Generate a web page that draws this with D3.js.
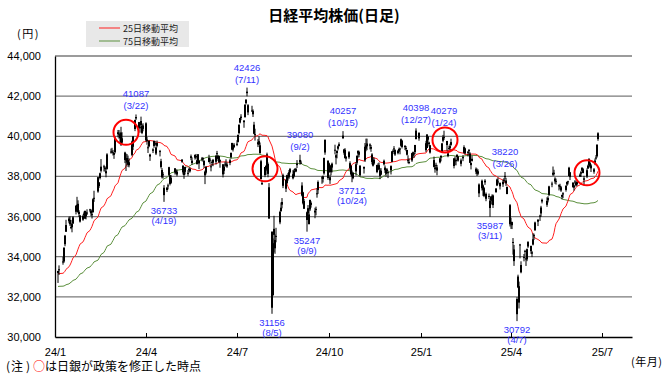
<!DOCTYPE html>
<html><head><meta charset="utf-8">
<script src="https://cdn.jsdelivr.net/npm/d3@7"></script>
<style>body{margin:0;background:#fff}svg{display:block}</style>
</head><body><svg id="c" width="670" height="377"></svg>
<script>
// ---- data (Nikkei 225 daily) ----
const dates = [
"24-01-04","24-01-05","24-01-09","24-01-10","24-01-11","24-01-12","24-01-15","24-01-16","24-01-17","24-01-18","24-01-19","24-01-22","24-01-23","24-01-24","24-01-25","24-01-26","24-01-29","24-01-30","24-01-31",
"24-02-01","24-02-02","24-02-05","24-02-06","24-02-07","24-02-08","24-02-09","24-02-13","24-02-14","24-02-15","24-02-16","24-02-19","24-02-20","24-02-21","24-02-22","24-02-26","24-02-27","24-02-28","24-02-29",
"24-03-01","24-03-04","24-03-05","24-03-06","24-03-07","24-03-08","24-03-11","24-03-12","24-03-13","24-03-14","24-03-15","24-03-18","24-03-19","24-03-21","24-03-22","24-03-25","24-03-26","24-03-27","24-03-28","24-03-29",
"24-04-01","24-04-02","24-04-03","24-04-04","24-04-05","24-04-08","24-04-09","24-04-10","24-04-11","24-04-12","24-04-15","24-04-16","24-04-17","24-04-18","24-04-19","24-04-22","24-04-23","24-04-24","24-04-25","24-04-26","24-04-30",
"24-05-01","24-05-02","24-05-07","24-05-08","24-05-09","24-05-10","24-05-13","24-05-14","24-05-15","24-05-16","24-05-17","24-05-20","24-05-21","24-05-22","24-05-23","24-05-24","24-05-27","24-05-28","24-05-29","24-05-30","24-05-31",
"24-06-03","24-06-04","24-06-05","24-06-06","24-06-07","24-06-10","24-06-11","24-06-12","24-06-13","24-06-14","24-06-17","24-06-18","24-06-19","24-06-20","24-06-21","24-06-24","24-06-25","24-06-26","24-06-27","24-06-28",
"24-07-01","24-07-02","24-07-03","24-07-04","24-07-05","24-07-08","24-07-09","24-07-10","24-07-11","24-07-12","24-07-16","24-07-17","24-07-18","24-07-19","24-07-22","24-07-23","24-07-24","24-07-25","24-07-26","24-07-29","24-07-30","24-07-31",
"24-08-01","24-08-02","24-08-05","24-08-06","24-08-07","24-08-08","24-08-09","24-08-13","24-08-14","24-08-15","24-08-16","24-08-19","24-08-20","24-08-21","24-08-22","24-08-23","24-08-26","24-08-27","24-08-28","24-08-29","24-08-30",
"24-09-02","24-09-03","24-09-04","24-09-05","24-09-06","24-09-09","24-09-10","24-09-11","24-09-12","24-09-13","24-09-17","24-09-18","24-09-19","24-09-20","24-09-24","24-09-25","24-09-26","24-09-27","24-09-30",
"24-10-01","24-10-02","24-10-03","24-10-04","24-10-07","24-10-08","24-10-09","24-10-10","24-10-11","24-10-15","24-10-16","24-10-17","24-10-18","24-10-21","24-10-22","24-10-23","24-10-24","24-10-25","24-10-28","24-10-29","24-10-30","24-10-31",
"24-11-01","24-11-05","24-11-06","24-11-07","24-11-08","24-11-11","24-11-12","24-11-13","24-11-14","24-11-15","24-11-18","24-11-19","24-11-20","24-11-21","24-11-22","24-11-25","24-11-26","24-11-27","24-11-28","24-11-29",
"24-12-02","24-12-03","24-12-04","24-12-05","24-12-06","24-12-09","24-12-10","24-12-11","24-12-12","24-12-13","24-12-16","24-12-17","24-12-18","24-12-19","24-12-20","24-12-23","24-12-24","24-12-25","24-12-26","24-12-27","24-12-30",
"25-01-06","25-01-07","25-01-08","25-01-09","25-01-10","25-01-14","25-01-15","25-01-16","25-01-17","25-01-20","25-01-21","25-01-22","25-01-23","25-01-24","25-01-27","25-01-28","25-01-29","25-01-30","25-01-31",
"25-02-03","25-02-04","25-02-05","25-02-06","25-02-07","25-02-10","25-02-12","25-02-13","25-02-14","25-02-17","25-02-18","25-02-19","25-02-20","25-02-21","25-02-25","25-02-26","25-02-27","25-02-28",
"25-03-03","25-03-04","25-03-05","25-03-06","25-03-07","25-03-10","25-03-11","25-03-12","25-03-13","25-03-14","25-03-17","25-03-18","25-03-19","25-03-21","25-03-24","25-03-25","25-03-26","25-03-27","25-03-28","25-03-31",
"25-04-01","25-04-02","25-04-03","25-04-04","25-04-07","25-04-08","25-04-09","25-04-10","25-04-11","25-04-14","25-04-15","25-04-16","25-04-17","25-04-18","25-04-21","25-04-22","25-04-23","25-04-24","25-04-25","25-04-28","25-04-30",
"25-05-01","25-05-02","25-05-07","25-05-08","25-05-09","25-05-12","25-05-13","25-05-14","25-05-15","25-05-16","25-05-19","25-05-20","25-05-21","25-05-22","25-05-23","25-05-26","25-05-27","25-05-28","25-05-29","25-05-30",
"25-06-02","25-06-03","25-06-04","25-06-05","25-06-06","25-06-09","25-06-10","25-06-11","25-06-12","25-06-13","25-06-16","25-06-17","25-06-18","25-06-19","25-06-20","25-06-23","25-06-24","25-06-25","25-06-26","25-06-27"
];
const open = [
33193,33319,33717,33765,34623,35244,35767,35829,35467,35648,35655,36238,36589,36636,36124,36050,35846,36153,35898,
36202,36200,36357,36290,36098,36217,36935,37248,37519,37919,38282,38502,38442,38155,38376,39240,39248,39206,39075,
39206,40201,40130,39911,40184,39900,39189,38899,38917,38587,38556,39074,39478,40364,40960,40706,40457,40559,40513,40538,
40646,39755,39414,39500,39088,39279,39521,39661,39140,39666,39261,38759,38321,38110,37436,37324,37529,38077,38056,37681,38203,
38167,38093,38736,38541,38262,38470,38156,38369,38258,39006,38668,38931,39014,38804,38775,38781,38838,38912,38785,38239,38185,
38712,38789,38505,38724,38823,38732,39157,39016,39014,38741,38605,38282,38594,38601,38496,38674,38954,39336,39559,39445,
39575,39721,40163,40682,40979,40700,40955,41652,42147,41550,41286,41266,40578,40107,39705,39758,39552,38758,37599,38064,38342,38371,
38620,37459,35250,32077,35389,34420,35037,35711,36270,36593,37533,37829,37675,37998,37957,38209,37905,38012,38333,38248,38563,
38823,38648,37548,37206,36774,35831,36419,36106,36354,36681,36293,36335,37159,37320,37951,38004,38152,39192,38785,
38215,37962,38208,38441,39291,39057,39163,39502,39514,40032,39342,39327,38887,39206,38661,38525,38002,38168,38250,38680,39140,39224,
38525,38388,38801,39555,39641,39590,39466,39095,38796,38830,38568,38510,38561,38307,38092,38604,38311,38342,38268,38207,
38301,38727,39262,39396,39314,39278,39250,39390,39530,39780,39526,39419,39317,38772,38718,38796,39200,39149,39216,39856,40180,
39656,39415,39831,39690,39552,38816,38359,38575,38292,38703,38946,39208,39777,39960,39767,39146,39405,39410,39710,
38901,38788,38759,38968,38995,38630,38905,39175,39400,39231,39311,39139,38562,38878,38380,38325,38133,37597,
37414,37552,37033,37791,37131,37014,36426,36992,36998,36570,37224,37551,37739,37507,37732,37840,37964,37655,37482,36569,
35735,35570,34734,34363,31893,32471,32530,34578,33225,33965,34292,33861,33870,34509,34539,34152,34605,35076,35314,35745,36007,
36155,36751,36586,36810,37085,37597,38083,38184,37892,37779,37564,37528,37461,37079,37100,37326,37597,37758,38020,38206,
37695,37550,37696,37676,37608,37989,38137,38287,38362,37905,37992,38390,38557,38665,38547,38236,38622,38908,39003,39860
];
const high = [
33299,33568,33991,34477,35085,35839,35992,36008,35835,35648,36020,36546,36984,36810,36317,36080,36097,36249,36287,
36249,36363,36387,36366,36318,36911,37287,37963,37717,38188,38865,38580,38505,38389,39156,39388,39426,39321,39166,
39990,40314,40314,40195,40472,40201,39230,39140,39116,39040,38909,39785,40004,40823,41087,40716,40552,40979,40602,40649,
40697,39964,39548,39800,39130,39404,39774,39773,39491,39787,39321,38878,38415,38215,37566,37478,37640,38480,38078,38068,38408,
38361,38341,38863,38541,38365,38484,38319,38443,38444,39091,38952,39096,39120,38851,39112,38791,38970,38953,38785,38293,38487,
39078,38933,38585,38804,38871,39038,39272,39070,39014,38848,38605,38516,38720,38854,38697,38881,39188,39676,39573,39667,
39804,40074,40580,40913,41100,40806,41580,41831,42426,41603,41520,41340,40720,40377,39862,40001,39690,38829,37813,38469,38553,39185,
38693,37669,35250,34911,36039,35112,35440,36290,36705,36922,38137,37865,38084,38174,38319,38423,38314,38357,38419,38427,38815,
39080,38791,37708,37233,36876,36253,36574,36357,36833,36758,36441,36497,37399,37799,38011,38044,38926,39829,38794,
38688,38087,38584,38691,39581,39106,39295,39540,39699,40257,39372,39410,39012,39262,38755,38554,38294,38221,38703,39042,39287,39282,
38568,38492,39664,39884,39884,39646,39567,39160,38935,38938,38580,38655,38695,38404,38413,38840,38546,38390,38415,38290,
38550,39263,39349,39511,39350,39324,39436,39433,39888,39822,39553,39515,39327,39051,38899,39178,39239,39205,39568,40398,40180,
39775,40113,40003,39731,39570,38986,38518,38683,38574,38903,39047,39657,40068,40279,39767,39292,39532,39624,39881,
38901,38997,38902,39115,39007,38893,39063,39552,39433,39259,39365,39203,38690,39038,38449,38400,38357,37652,
37843,37600,37474,37863,37199,37145,36885,37025,37104,37100,37418,37887,37939,37700,37837,37924,38220,37931,37482,36624,
35942,35746,34930,34588,31987,33106,32760,34639,33772,34135,34344,34002,34413,34777,34548,34288,35166,35150,35747,35871,36092,
36535,36893,36960,37014,37535,37739,38494,38331,37960,37893,37605,37635,37528,37087,37214,37556,37746,37786,38479,38225,
37695,37573,37819,37712,37759,38150,38277,38467,38422,38027,38404,38590,38885,38743,38610,38418,38895,39063,39587,40200
];
const low = [
32693,33091,33601,33699,34521,35243,35666,35533,35371,35216,35635,36107,36492,36173,35980,35703,35790,36015,35885,
35858,36079,36213,36029,35903,36200,36732,37188,37424,37849,38195,38246,38245,37956,38341,39135,39160,39043,38876,
39142,39948,39881,39608,39518,39597,38664,38271,38578,38479,38452,39007,39317,40256,40815,40389,40180,40474,40106,40249,
39741,39577,39169,39454,38774,39164,39426,39518,39065,39450,38998,38398,37900,37900,36733,37222,37352,38035,37552,37630,38095,
38107,38004,38682,38093,37881,38095,38030,38198,38196,38811,38577,38837,38869,38591,38657,38367,38755,38741,38426,37617,38096,
38712,38608,38254,38530,38510,38595,38895,38774,38664,38432,37950,38114,38491,38495,38428,38559,38893,39306,39241,39446,
39510,39691,40094,40639,40805,40424,40929,41585,41990,41054,41228,40961,40104,39784,39463,39574,39145,37850,37599,37961,38079,38264,
37958,35880,31156,32077,34215,34146,34720,35619,36246,36411,37417,37222,37631,37791,37880,38147,37853,37954,38210,38213,38419,
38583,38620,37003,36599,36378,35247,35999,35621,36276,36443,35917,36062,36941,37128,37633,37694,38086,39079,37827,
38165,37627,38049,38201,39101,38599,38902,39298,39495,39862,39081,38900,38742,38875,38302,38039,37712,37861,38040,38582,38935,38956,
37985,38145,38718,39256,39308,39346,39227,38601,38494,38581,38161,38315,38309,37864,38071,38549,38172,37991,38171,37917,
38097,38707,39112,39211,39024,39098,39210,39101,39484,39394,39318,39256,39045,38655,38611,38723,38982,38921,39106,39856,39779,
39216,39415,39721,39491,39140,38451,38186,38342,38055,38649,38752,39187,39700,39818,39286,38957,39325,39311,39529,
38401,38562,38553,38888,38737,38504,38760,39153,39093,38991,39104,38673,38349,38739,38113,38020,38059,36969,
37296,37031,36966,37579,36765,36875,35987,36592,36617,36425,37179,37518,37605,37349,37478,37664,37860,37527,37120,35505,
35386,35377,34102,33543,30792,32436,31420,33919,33174,33770,34025,33539,33778,34438,34144,33980,34564,34838,35300,35527,35781,
35988,36656,36485,36705,37029,37462,38029,38045,37633,37595,37302,37378,37229,36855,36917,37242,37522,37600,38014,37818,
37436,37291,37597,37497,37538,37971,37973,38276,38153,37540,37918,38387,38517,38429,38219,38134,38561,38836,38939,39775
];
const close = [
33288,33377,33763,34441,35049,35577,35901,35619,35477,35466,35963,36546,36517,36226,36236,35751,36026,36066,36287,
36011,36158,36354,36160,36119,36863,36897,37963,37703,38157,38487,38470,38363,38262,39098,39233,39239,39208,39166,
39910,40109,40097,40090,39598,39688,38820,38797,38695,38807,38707,39740,40003,40815,40888,40414,40398,40762,40168,40369,
39803,39838,39451,39773,38992,39347,39773,39581,39442,39523,39232,38471,37961,38079,37068,37438,37552,38460,37628,37934,38405,
38274,38236,38835,38202,38073,38229,38179,38356,38385,38920,38787,39069,38946,38617,39103,38646,38900,38855,38556,38054,38487,
38923,38837,38490,38703,38683,39038,39134,38876,38720,38814,38102,38482,38570,38633,38596,38804,39173,39667,39341,39583,
39631,40074,40580,40913,40912,40780,41580,41831,42224,41190,41275,41097,40126,40063,39599,39594,39154,37869,37667,38468,38525,39101,
38126,35909,31458,34675,35089,34831,35025,36232,36442,36726,38062,37388,38062,37951,38211,38364,38110,38288,38371,38362,38647,
38700,38686,37047,36657,36391,36215,36159,35619,36833,36581,36203,36380,37155,37723,37940,37870,38925,39829,37919,
38651,37808,38552,38635,39332,38937,39277,39380,39605,39910,39180,38911,38981,38954,38411,38104,38143,37913,38605,39027,39277,39081,
38053,38474,39480,39381,39500,39533,39376,38721,38536,38642,38220,38414,38352,38026,38283,38780,38442,38134,38349,38208,
38513,39248,39276,39395,39091,39160,39367,39372,39849,39470,39457,39364,39081,38813,38701,39161,39036,39130,39568,40281,39894,
39307,40083,39981,39605,39190,38474,38445,38572,38451,38903,39027,39646,39958,39931,39566,39016,39415,39513,39572,
38520,38798,38831,39066,38787,38801,38963,39461,39149,39174,39270,38678,38678,38776,38237,38142,38256,37155,
37785,37331,37418,37704,36887,37028,36793,36819,36790,37053,37396,37845,37751,37677,37608,37780,38027,37799,37120,35617,
35624,35725,34735,33780,31136,33012,31714,34609,33586,33982,34267,33920,34377,34730,34280,34220,34868,35039,35705,35840,36045,
36452,36831,36780,36928,37503,37644,38183,38128,37755,37753,37499,37529,37299,36985,37160,37532,37724,37722,38433,37965,
37470,37446,37747,37554,37742,38089,38211,38421,38173,37834,38311,38537,38885,38489,38403,38354,38791,38942,39585,40150
];
// closes before the window (Sep-Dec 2023), used for the moving averages
const prevClose = [
32467,32776,32707,33168,33533,33242,33023,32571,32402,32678,32315,32371,31872,31857,
31759,31237,30526,31075,30994,31746,31936,32494,32315,31659,32040,32042,31430,31259,31000,31062,31270,30602,30991,30697,30859,
31601,31950,32708,32271,32166,32646,32568,32585,32696,33519,33424,33585,33388,33354,33452,33625,33447,33408,33321,33486,
33431,33231,32775,33445,32858,32307,32791,32843,32926,32686,32970,32758,33219,33675,33141,33169,33254,33305,33681,33539,33464
];
const yTicks = [30000,32000,34000,36000,38000,40000,42000,44000];
const xTickDates = ["24-01-01","24-04-01","24-07-01","24-10-01","25-01-01","25-04-01","25-07-01"];
const xTickLabels = ["24/1","24/4","24/7","24/10","25/1","25/4","25/7"];
const annDates  = ["24-03-22","24-07-11","24-09-02","24-10-15","24-12-27","25-01-24","25-03-26","24-04-19","24-08-05","24-09-09","24-10-24","25-03-11","25-04-07"];
const annValues = [41087,42426,39080,40257,40398,40279,38220,36733,31156,35247,37712,35987,30792];
const annDateText = ["(3/22)","(7/11)","(9/2)","(10/15)","(12/27)","(1/24)","(3/26)","(4/19)","(8/5)","(9/9)","(10/24)","(3/11)","(4/7)"];
const annType = ["high","high","high","high","high","high","high","low","low","low","low","low","low"];
const circleDates = ["24-03-12","24-07-29","25-01-25","25-06-16"];
const circleValues = [40200,38380,39820,38180];

// ---- drawing ----
const parse = d3.timeParse("%y-%m-%d");
const svg = d3.select("#c");
const x = d3.scaleTime().domain([parse("24-01-01"), parse("25-07-31")]).range([55, 632]);
const y = d3.scaleLinear().domain([30000, 44000]).range([337, 56]);
const sans = "'Liberation Sans', Arial, sans-serif";
const cjk = "'Noto Sans CJK JP', sans-serif";

const data = dates.map((d, i) => ({date: parse(d), o: open[i], h: high[i], l: low[i], c: close[i]}));
const allClose = prevClose.concat(close);
function ma(n) {
  return data.map((d, i) => {
    const k = i + prevClose.length;
    return {date: d.date, v: d3.mean(allClose.slice(k - n + 1, k + 1))};
  });
}
const ma25 = ma(25), ma75 = ma(75);

// gridlines
svg.append("g").selectAll("line").data(yTicks.filter(v => v > 30000)).join("line")
  .attr("x1", 55).attr("x2", 632).attr("y1", d => y(d)).attr("y2", d => y(d))
  .attr("stroke", "#7a7a7a").attr("stroke-width", 1.3);

// axes
const yAxis = svg.append("g").attr("transform", "translate(55,0)")
  .call(d3.axisLeft(y).tickValues(yTicks).tickSize(0).tickPadding(14).tickFormat(d3.format(",")));
yAxis.select(".domain").attr("stroke", "#000").attr("stroke-width", 1.3);
yAxis.selectAll("text").attr("font-family", sans).attr("font-size", 11).attr("fill", "#000");

const xAxis = svg.append("g").attr("transform", "translate(0,337)")
  .call(d3.axisBottom(x).tickValues(xTickDates.map(parse)).tickSizeInner(-4).tickSizeOuter(0).tickPadding(10)
    .tickFormat((d, i) => xTickLabels[i]));
xAxis.select(".domain").attr("stroke", "#000").attr("stroke-width", 1.3);
xAxis.selectAll(".tick line").attr("stroke", "#000");
xAxis.selectAll("text").attr("font-family", sans).attr("font-size", 11).attr("fill", "#000").attr("y", 11);

// moving averages
const line = d3.line().x(d => x(d.date)).y(d => y(d.v));
svg.append("path").datum(ma75).attr("d", line).attr("fill", "none").attr("stroke", "#5b8f3c").attr("stroke-width", 1);
svg.append("path").datum(ma25).attr("d", line).attr("fill", "none").attr("stroke", "#ff2020").attr("stroke-width", 1);

// candles
const cg = svg.append("g");
cg.selectAll("line").data(data).join("line")
  .attr("x1", d => x(d.date)).attr("x2", d => x(d.date))
  .attr("y1", d => y(d.h)).attr("y2", d => y(d.l))
  .attr("stroke", "#000").attr("stroke-width", 1);
cg.selectAll("rect").data(data).join("rect")
  .attr("x", d => x(d.date) - 1).attr("width", 2)
  .attr("y", d => y(Math.max(d.o, d.c)))
  .attr("height", d => Math.max(1, Math.abs(y(d.o) - y(d.c))))
  .attr("fill", "#000");

// policy-change circles
svg.append("g").selectAll("circle").data(circleDates).join("circle")
  .attr("cx", (d, i) => x(parse(d))).attr("cy", (d, i) => y(circleValues[i]))
  .attr("r", 12.5).attr("fill", "none").attr("stroke", "#ff0000").attr("stroke-width", 2);

// annotations
const ag = svg.append("g").attr("font-family", sans).attr("font-size", 9.5).attr("fill", "#3333ff").attr("text-anchor", "middle");
annDates.forEach((d, i) => {
  const cx = x(parse(d)), cy = y(annValues[i]);
  const up = annType[i] === "high";
  ag.append("text").attr("x", cx).attr("y", up ? cy - 17 : cy + 12).text(annValues[i]);
  ag.append("text").attr("x", cx).attr("y", up ? cy - 5 : cy + 22).text(annDateText[i]);
});

// title
svg.append("text").attr("x", 334).attr("y", 21).attr("text-anchor", "middle")
  .attr("font-family", cjk).attr("font-weight", "bold").attr("font-size", 15).text("日経平均株価(日足)");

// legend
svg.append("rect").attr("x", 86).attr("y", 21).attr("width", 103).attr("height", 26).attr("fill", "#e8e8e8");
svg.append("line").attr("x1", 99).attr("x2", 120).attr("y1", 28).attr("y2", 28).attr("stroke", "#ff2020").attr("stroke-width", 1);
svg.append("line").attr("x1", 99).attr("x2", 120).attr("y1", 41).attr("y2", 41).attr("stroke", "#5b8f3c").attr("stroke-width", 1);
svg.append("text").attr("x", 123).attr("y", 31.5).attr("font-family", cjk).attr("font-size", 9).attr("fill", "#222").text("25日移動平均");
svg.append("text").attr("x", 123).attr("y", 44.5).attr("font-family", cjk).attr("font-size", 9).attr("fill", "#222").text("75日移動平均");

// unit labels
svg.append("text").attr("x", 17).attr("y", 38).attr("font-family", cjk).attr("font-size", 11)
  .attr("letter-spacing", 1.5).text("(円)");
svg.append("text").attr("x", 631).attr("y", 366).attr("font-family", cjk).attr("font-size", 11)
  .attr("letter-spacing", 0.5).text("(年月)");

// note
const note = svg.append("text").attr("y", 371).attr("font-family", cjk).attr("font-size", 12);
note.append("tspan").attr("x", 6).text("(");
note.append("tspan").attr("x", 11).text("注");
note.append("tspan").attr("x", 26).text(")");
note.append("tspan").attr("x", 33).attr("fill", "#ff0000").text("○");
note.append("tspan").attr("x", 45).text("は日銀が政策を修正した時点");
</script>
</body></html>
